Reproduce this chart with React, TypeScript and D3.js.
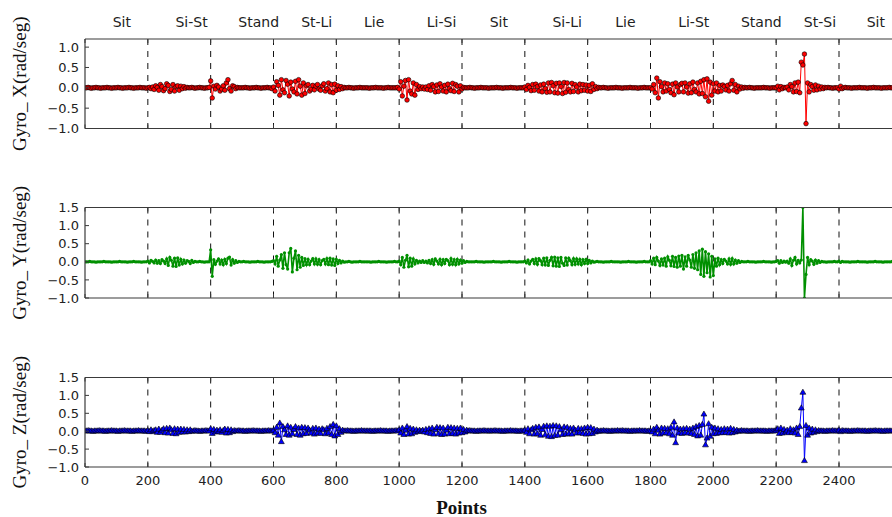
import React from "react";
import * as d3 from "d3";

// Gyroscope readings in hundredths of rad/seg, one value every 5 points (x = index * 5)
const gyroX = [
  0,0,1,0,-1,0,0,1,0,0,-1,0,0,0,1,0,0,-1,0,0,
  0,1,0,0,-1,0,0,0,1,0,0,-1,0,0,0,1,0,0,0,-1,
  0,1,-2,2,-4,5,1,-6,8,3,-7,-2,10,6,-9,-4,8,-8,3,5,
  -6,4,-2,3,-1,1,0,0,1,0,-1,0,0,1,0,0,-1,0,0,1,
  17,-25,4,-3,6,2,-8,-3,5,-6,12,20,-2,-8,5,3,-2,1,0,0,
  0,0,1,0,0,-1,0,0,0,1,0,0,-1,0,0,0,1,0,0,-2,
  2,-8,15,6,-18,20,-5,-12,18,9,-20,14,-3,-10,16,-15,20,4,-18,12,
  -14,5,8,-8,-3,6,-5,4,8,-3,-6,5,10,-8,-2,12,-10,8,-12,9,
  -6,5,-4,3,-2,1,0,0,1,0,0,-1,0,0,0,1,0,0,0,0,
  0,-1,0,0,0,1,0,0,0,0,-1,0,0,1,0,0,0,0,0,1,
  -3,15,-20,4,18,-30,20,-8,-15,12,-18,8,-4,3,-2,2,-3,2,-4,5,
  -6,8,3,-10,7,-9,10,2,-8,6,-10,9,-2,-7,11,-9,8,4,-10,5,
  -3,1,0,0,0,1,0,0,-1,0,0,0,1,0,0,0,0,-1,0,0,
  0,0,1,0,0,0,-1,0,0,0,0,1,0,0,0,-1,0,0,0,0,
  2,-4,6,1,-7,8,-6,9,3,-8,7,-10,9,-2,-11,12,-10,13,5,-12,
  11,-13,12,3,-14,13,-11,12,-4,-10,11,-9,8,2,-10,9,-7,8,-6,7,
  -8,6,-9,10,-4,3,-2,1,0,0,1,0,0,-1,0,0,0,0,1,0,
  0,0,-1,0,0,0,0,1,0,0,0,0,-1,0,0,0,1,0,0,0,
  0,-3,8,-12,24,-25,15,3,-10,12,-8,10,-4,-12,9,-17,12,2,-10,8,
  11,-10,12,2,-13,10,-12,14,-4,-10,12,-15,16,-14,20,-22,22,-33,14,-18,
  10,-8,12,-10,6,-8,7,3,-5,6,-8,10,18,-6,8,-10,4,-3,2,-1,
  1,0,0,1,0,0,-1,0,0,0,0,0,1,0,0,0,-1,0,0,0,
  0,4,-5,3,-2,1,0,2,-5,8,3,-10,12,-9,14,-12,63,56,83,-88,
  12,-10,8,3,-6,7,-5,4,-3,2,-2,1,0,1,0,0,-1,0,0,0,
  -3,4,-2,0,1,0,0,0,-1,0,0,0,0,1,0,0,0,0,-1,0,
  0,0,1,0,0,0,0,-1,0,0,0,0,1,0,0,0,0,0,-1,0,
];

const gyroY = [
  0,0,0,1,0,0,0,-1,0,0,0,0,1,0,0,0,0,-1,0,0,
  0,0,1,0,0,0,0,-1,0,0,0,1,0,0,0,0,-1,0,0,0,
  2,-3,4,1,-3,5,-4,3,-5,6,2,-5,8,-10,12,4,-12,10,-13,11,
  -9,7,-6,5,-4,3,1,-5,4,-2,1,0,0,1,0,0,-1,0,0,0,
  33,-40,6,-7,2,8,-6,5,-8,7,-5,10,13,-9,6,-4,3,-2,1,0,
  0,1,0,0,0,-1,0,0,0,0,1,0,0,0,-1,0,0,0,0,1,
  3,-6,15,-12,5,20,-18,25,-8,-20,25,37,-28,10,30,-22,18,-15,12,-10,
  9,-8,7,-8,2,9,-6,8,-7,6,-8,3,7,-6,9,-8,10,-9,8,-10,
  7,-5,4,-3,2,-1,0,0,1,0,-1,0,0,0,0,1,0,0,0,0,
  0,0,-1,0,0,0,0,1,0,0,0,0,-1,0,0,0,0,1,0,0,
  2,-8,12,-15,4,18,-14,10,-12,8,-6,4,-3,2,-2,3,-2,2,-3,4,
  -5,6,-7,8,2,-6,7,-8,6,-5,7,3,-8,9,-7,6,-8,7,-6,5,
  -4,3,-2,1,0,0,0,0,0,1,0,0,0,0,-1,0,0,0,0,0,
  1,0,0,0,0,-1,0,0,0,0,1,0,0,0,0,-1,0,0,0,0,
  2,-3,5,-6,2,7,-5,8,-7,9,3,-8,10,-9,11,-10,4,12,-11,13,
  -12,11,-13,12,-4,-10,11,-9,10,3,-8,9,-7,8,-6,7,-8,6,-5,7,
  -5,4,-3,2,-1,0,1,0,0,0,-1,0,0,0,0,1,0,0,0,0,
  0,-1,0,0,0,0,1,0,0,0,0,-1,0,0,0,0,1,0,0,0,
  3,-6,10,-8,12,2,-10,8,-9,10,-12,14,4,-11,15,-13,12,-15,16,-12,
  18,-20,14,-12,18,5,-15,20,-18,25,-22,30,-35,35,-40,28,-30,22,-42,15,
  -38,8,-12,10,-8,6,-5,7,2,-6,8,-7,9,-6,5,-4,3,-2,1,0,
  0,0,1,0,0,0,0,-1,0,0,0,0,1,0,0,0,0,-1,0,0,
  1,3,-4,3,-2,2,-1,2,-4,8,-10,4,12,-6,4,-3,5,150,-100,-35,
  12,-8,6,2,-7,5,-4,3,-2,1,0,0,-1,0,0,0,0,1,0,0,
  2,-2,1,0,0,0,0,-1,0,0,0,0,1,0,0,0,0,0,-1,0,
  0,0,0,1,0,0,0,0,-1,0,0,0,0,0,1,0,0,0,0,0,
];

const gyroZ = [
  0,0,1,0,0,-1,0,0,0,1,0,0,0,-1,0,0,0,1,0,0,
  0,-1,0,0,0,1,0,0,0,0,-1,0,0,0,1,0,0,0,0,-1,
  1,-2,3,-2,1,3,-4,5,-4,2,6,-5,7,-6,8,3,-7,6,-8,5,
  -4,5,-3,4,-3,3,-2,3,-1,0,1,0,0,-1,0,0,0,1,0,0,
  6,-7,4,-3,2,-2,3,-4,1,5,-6,4,-5,3,-2,1,0,0,1,0,
  0,0,-1,0,0,0,0,1,0,0,0,0,-1,0,0,0,0,1,0,0,
  2,-5,10,-12,22,-30,12,3,-10,14,-12,10,-8,4,12,-10,8,-12,10,-8,
  9,-7,8,2,-6,7,-9,8,-6,5,-7,6,3,-8,7,-6,12,-10,18,-14,
  14,-10,6,-4,2,0,0,1,0,0,0,-1,0,0,0,0,1,0,0,0,
  0,0,0,-1,0,0,0,0,1,0,0,0,0,-1,0,0,0,0,1,0,
  3,-6,8,-10,2,12,-9,7,-8,5,-4,3,-2,2,-1,2,-3,4,-5,6,
  -7,8,-9,3,10,-8,9,-10,8,-9,2,10,-8,9,-7,8,-9,7,-6,8,
  -5,4,-3,2,0,1,0,0,0,-1,0,0,0,0,1,0,0,0,0,0,
  0,1,0,0,0,0,-1,0,0,0,0,1,0,0,0,0,-1,0,0,0,
  2,-4,6,-8,3,7,-9,10,-8,11,-12,4,13,-11,14,-15,13,-16,15,-13,
  14,-12,12,3,-10,11,-9,10,-8,7,-9,8,2,-6,7,-5,6,-7,8,-9,
  10,-8,9,-7,5,-3,2,-1,0,0,1,0,0,0,-1,0,0,0,0,1,
  0,0,1,0,0,0,0,-1,0,0,0,0,0,1,0,0,0,0,-1,0,
  0,-3,5,-8,10,2,-9,8,-6,7,-5,6,-8,10,-12,25,-33,8,-6,5,
  -7,6,-5,7,-6,5,-7,8,-10,12,-14,15,-12,18,47,-39,-20,20,-15,10,
  -8,8,-7,6,-5,4,-5,6,-4,5,-6,7,-5,4,-3,2,-1,0,1,0,
  0,0,0,-1,0,0,0,0,1,0,0,0,0,0,-1,0,0,0,0,0,
  2,6,-7,8,-6,4,-3,2,-5,6,-4,3,-6,8,-10,12,64,108,-83,15,
  -12,8,-6,5,-4,3,-2,1,0,0,0,-1,0,0,0,0,1,0,0,0,
  2,-2,1,0,0,0,0,-1,0,0,0,0,1,0,0,0,0,0,-1,0,
  0,0,0,1,0,0,0,0,-1,0,0,0,0,0,1,0,0,0,0,0,
];

const SAMPLE_STEP = 5;
const activities = ["Sit", "Si-St", "Stand", "St-Li", "Lie", "Li-Si", "Sit", "Si-Li", "Lie", "Li-St", "Stand", "St-Si", "Sit"];
const boundaries = [200, 400, 600, 800, 1000, 1200, 1400, 1600, 1800, 2000, 2200, 2400];
const xTicks = [0, 200, 400, 600, 800, 1000, 1200, 1400, 1600, 1800, 2000, 2200, 2400];
const yTicksX = [-1.0, -0.5, 0.0, 0.5, 1.0];
const yTicksYZ = [-1.0, -0.5, 0.0, 0.5, 1.0, 1.5];

const W = 892;
const H = 517;
const LEFT = 85;
const PX_PER_UNIT = 754 / 2400;
const X_MAX = 2600;
const RIGHT = LEFT + X_MAX * PX_PER_UNIT;

const SANS = "'DejaVu Sans', sans-serif";
const SERIF = "'Liberation Serif', 'Times New Roman', serif";

const xScale = d3.scaleLinear().domain([0, X_MAX]).range([LEFT, RIGHT]);

type Panel = {
  id: string;
  values: number[];
  yDomain: [number, number];
  yTicks: number[];
  top: number;
  bottom: number;
  color: string;
  marker: "circle" | "none" | "triangle";
  label: string;
  showX: boolean;
};

const panels: Panel[] = [
  { id: "gx", values: gyroX, yDomain: [-1, 1.2], yTicks: yTicksX, top: 39, bottom: 128.5, color: "#ff0000", marker: "circle", label: "Gyro_ X(rad/seg)", showX: false },
  { id: "gy", values: gyroY, yDomain: [-1, 1.5], yTicks: yTicksYZ, top: 207.5, bottom: 298, color: "#009000", marker: "none", label: "Gyro_ Y(rad/seg)", showX: false },
  { id: "gz", values: gyroZ, yDomain: [-1, 1.5], yTicks: yTicksYZ, top: 377.5, bottom: 467, color: "#0000ff", marker: "triangle", label: "Gyro_ Z(rad/seg)", showX: true },
];

const fmt = (v: number) => (v < 0 ? "\u2212" : "") + Math.abs(v).toFixed(1);

function PanelView({ p }: { p: Panel }) {
  const y = d3.scaleLinear().domain(p.yDomain).range([p.bottom, p.top]);
  const pts = p.values.map((v, i) => ({ x: i * SAMPLE_STEP, v: v / 100 }));
  const line = d3
    .line<{ x: number; v: number }>()
    .x((d) => xScale(d.x))
    .y((d) => y(d.v));
  const tri = d3.symbol().type(d3.symbolTriangle).size(15)();
  const clipId = `clip-${p.id}`;
  const axisColor = "#3a3a3a";
  return (
    <g>
      <defs>
        <clipPath id={clipId}>
          <rect x={LEFT} y={p.top} width={RIGHT - LEFT} height={p.bottom - p.top} />
        </clipPath>
      </defs>
      {boundaries.map((b) => (
        <line key={b} x1={xScale(b)} x2={xScale(b)} y1={p.top} y2={p.bottom} stroke="#111" strokeWidth={1} strokeDasharray="6,6" />
      ))}
      <g clipPath={`url(#${clipId})`}>
        <path d={line(pts) || ""} fill="none" stroke={p.color} strokeWidth={p.marker === "none" ? 1.6 : 1} />
        {p.marker === "circle" &&
          pts.map((d, i) => (
            <circle key={i} cx={xScale(d.x)} cy={y(d.v)} r={2.3} fill={p.color} stroke="#000" strokeWidth={0.6} />
          ))}
        {p.marker === "none" &&
          pts.map((d, i) => <circle key={i} cx={xScale(d.x)} cy={y(d.v)} r={1.6} fill={p.color} />)}
        {p.marker === "triangle" &&
          pts.map((d, i) => (
            <path key={i} d={tri || ""} transform={`translate(${xScale(d.x)},${y(d.v)})`} fill={p.color} stroke="#000" strokeWidth={0.6} />
          ))}
      </g>
      <line x1={LEFT} x2={RIGHT} y1={p.top} y2={p.top} stroke={axisColor} strokeWidth={1.2} />
      <line x1={LEFT} x2={RIGHT} y1={p.bottom} y2={p.bottom} stroke={axisColor} strokeWidth={1.2} />
      <line x1={LEFT} x2={LEFT} y1={p.top} y2={p.bottom} stroke={axisColor} strokeWidth={1.2} />
      <line x1={RIGHT} x2={RIGHT} y1={p.top} y2={p.bottom} stroke={axisColor} strokeWidth={1.2} />
      {p.yTicks.map((t) => (
        <g key={t}>
          <line x1={LEFT} x2={LEFT + 4} y1={y(t)} y2={y(t)} stroke={axisColor} strokeWidth={1} />
          <text x={LEFT - 6} y={y(t)} dy="0.36em" textAnchor="end" fontFamily={SANS} fontSize={13} fill="#222">
            {fmt(t)}
          </text>
        </g>
      ))}
      {xTicks.map((t) => (
        <g key={t}>
          <line x1={xScale(t)} x2={xScale(t)} y1={p.bottom} y2={p.bottom - 4} stroke={axisColor} strokeWidth={1} />
          <line x1={xScale(t)} x2={xScale(t)} y1={p.top} y2={p.top + 4} stroke={axisColor} strokeWidth={1} />
          {p.showX && (
            <text x={xScale(t)} y={485} textAnchor="middle" fontFamily={SANS} fontSize={13} fill="#222">
              {t}
            </text>
          )}
        </g>
      ))}
      <text
        transform={`translate(26,${(p.top + p.bottom) / 2}) rotate(-90)`}
        textAnchor="middle"
        fontFamily={SERIF}
        fontSize={19}
        fill="#111"
      >
        {p.label}
      </text>
    </g>
  );
}

export default function App() {
  return (
    <svg width={W} height={H} style={{ display: "block", position: "absolute", left: 0, top: 0, background: "#fff" }}>
      <rect x={0} y={0} width={W} height={H} fill="#fff" />
      {activities.map((a, i) => (
        <text key={i} x={xScale(88 + 200 * i)} y={27} fontFamily={SANS} fontSize={14} fill="#222">
          {a}
        </text>
      ))}
      {panels.map((p) => (
        <PanelView key={p.id} p={p} />
      ))}
      <text x={461.5} y={514} textAnchor="middle" fontFamily={SERIF} fontWeight="bold" fontSize={19} fill="#111">
        Points
      </text>
    </svg>
  );
}
